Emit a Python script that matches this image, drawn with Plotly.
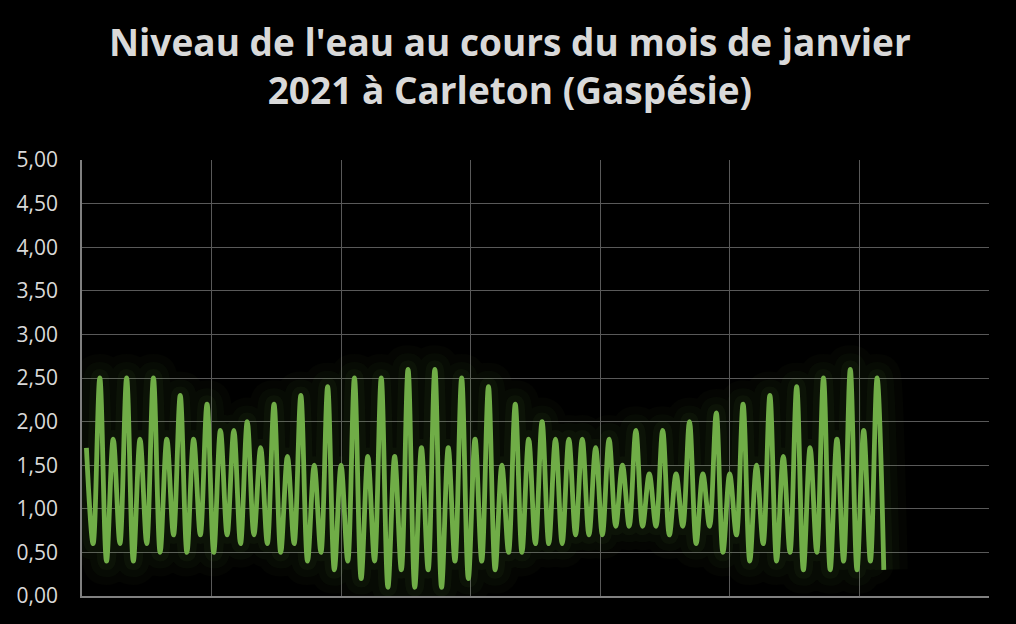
import plotly.graph_objects as go

# Tide extremes (m), January 2021, Carleton
levels = [
    1.7, 0.6, 2.5, 0.4, 1.8, 0.6, 2.5, 0.4, 1.8, 0.6,
    2.5, 0.5, 1.8, 0.7, 2.3, 0.5, 1.8, 0.7, 2.2, 0.5,
    1.9, 0.7, 1.9, 0.6, 2.0, 0.7, 1.7, 0.6, 2.2, 0.5,
    1.6, 0.6, 2.3, 0.4, 1.5, 0.5, 2.4, 0.3, 1.5, 0.4,
    2.5, 0.2, 1.6, 0.4, 2.5, 0.1, 1.6, 0.3, 2.6, 0.1,
    1.7, 0.3, 2.6, 0.1, 1.7, 0.4, 2.5, 0.2, 1.8, 0.4,
    2.4, 0.3, 1.5, 0.5, 2.2, 0.5, 1.8, 0.6, 2.0, 0.6,
    1.8, 0.6, 1.8, 0.7, 1.8, 0.7, 1.7, 0.7, 1.8, 0.8,
    1.5, 0.8, 1.9, 0.8, 1.4, 0.8, 1.9, 0.7, 1.4, 0.8,
    2.0, 0.6, 1.4, 0.8, 2.1, 0.5, 1.4, 0.7, 2.2, 0.4,
    1.5, 0.6, 2.3, 0.4, 1.6, 0.5, 2.4, 0.3, 1.7, 0.5,
    2.5, 0.3, 1.8, 0.4, 2.6, 0.3, 1.9, 0.4, 2.5, 0.3,
]
obs = list(range(len(levels)))

y_ticks = [0, 0.5, 1, 1.5, 2, 2.5, 3, 3.5, 4, 4.5, 5]
y_labels = ["0,00", "0,50", "1,00", "1,50", "2,00", "2,50",
            "3,00", "3,50", "4,00", "4,50", "5,00"]

title = "Niveau de l'eau au cours du mois de janvier<br>2021 à Carleton (Gaspésie)"

fig = go.Figure()

# glow layers
for w, a in [(48, 0.03), (32, 0.04), (18, 0.05)]:
    fig.add_trace(go.Scatter(
        x=obs, y=levels, mode="lines",
        line=dict(color=f"rgba(112,173,71,{a})", width=w, shape="spline", smoothing=1),
        hoverinfo="skip", showlegend=False,
    ))

fig.add_trace(go.Scatter(
    x=obs, y=levels, mode="lines",
    line=dict(color="#70ad47", width=4.8, shape="spline", smoothing=1),
    showlegend=False, name="Niveau",
))

fig.add_annotation(
    text=title, xref="paper", yref="paper", x=0.472, y=1.217,
    xanchor="center", yanchor="middle", showarrow=False,
    font=dict(family="Open Sans", size=37, color="#d9d9d9", weight="bold"),
)

fig.update_layout(
    width=1016, height=624,
    paper_bgcolor="#000000", plot_bgcolor="#000000",
    margin=dict(l=82, r=27, t=160, b=28),
    font=dict(family="Open Sans", color="#d9d9d9"),
)

fig.update_xaxes(
    range=[-0.66, 134.7], tick0=-0.66, dtick=19.34,
    showticklabels=False, showgrid=True, gridcolor="#595959", gridwidth=1.3,
    showline=True, linecolor="#808080", linewidth=1.5, zeroline=False,
)
fig.update_yaxes(
    range=[0, 5], tickvals=y_ticks, ticktext=y_labels,
    showgrid=True, gridcolor="#595959", gridwidth=1.3,
    showline=True, linecolor="#808080", linewidth=1.5, zeroline=False,
    tickfont=dict(family="Open Sans", size=21, color="#d9d9d9"),
    ticks="", ticklabelstandoff=18,
)

fig.write_html(
    "out.html",
    config={"displayModeBar": False},
    post_script="document.body.style.margin='0';document.body.style.background='#000';",
)
